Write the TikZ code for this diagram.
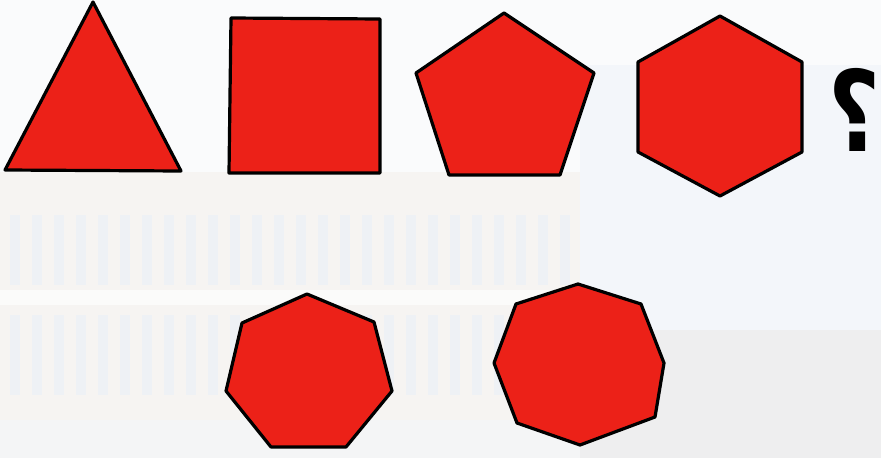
\documentclass[tikz,border=0pt]{standalone}
\usepackage{fontspec}
\newfontfamily\arabicfont[Script=Arabic]{DejaVu Sans}
\TeXXeTstate=1
\definecolor{shapered}{HTML}{EC2118}
\definecolor{bgtop}{HTML}{FAFBFC}
\definecolor{bgblue}{HTML}{F3F6FA}
\definecolor{bggrey}{HTML}{EEEEEF}
\definecolor{bldg}{HTML}{F6F4F2}
\definecolor{bldgline}{HTML}{EEF1F5}
\tikzset{
  poly/.style={fill=shapered, draw=black, line width=3.2pt, line join=round},
}
\begin{document}
\begin{tikzpicture}[x=1pt,y=-1pt]
\useasboundingbox (0,0) rectangle (881,458);
% background
\fill[bgtop] (0,0) rectangle (881,458);
\fill[bgblue] (580,65) rectangle (881,330);
\fill[bggrey] (580,330) rectangle (881,458);
\fill[bggrey!50!bgtop] (0,420) rectangle (580,458);
\fill[bldg] (0,172) rectangle (580,420);
\foreach \x in {10,32,...,570} {
  \fill[bldgline] (\x,215) rectangle (\x+10,285);
  \fill[bldgline] (\x,315) rectangle (\x+10,395);
}
\fill[white!60!bldg] (0,290) rectangle (580,305);
% shapes
\draw[poly] (93,2) -- (181,171) -- (5,170) -- cycle;
\draw[poly] (231,18) -- (380,19) -- (380,173) -- (229,173) -- cycle;
\draw[poly] (504,13) -- (594,73) -- (560,175) -- (449,175) -- (416,73) -- cycle;
\draw[poly] (720,16) -- (802,62) -- (802,152) -- (720,196) -- (638,152) -- (638,62) -- cycle;
\draw[poly] (307,294) -- (374,322) -- (392,391) -- (346,447) -- (271,447) -- (226,391) -- (242,323) -- cycle;
\draw[poly] (578,284) -- (641,304) -- (664,363) -- (655,417) -- (580,445) -- (517,423) -- (494,363) -- (516,304) -- cycle;
% question mark
\node[anchor=center, inner sep=0pt, xscale=0.8] (q) at (854,110) {\arabicfont\bfseries\fontsize{112}{112}\selectfont\beginR ؟\endR};
\end{tikzpicture}
\end{document}
